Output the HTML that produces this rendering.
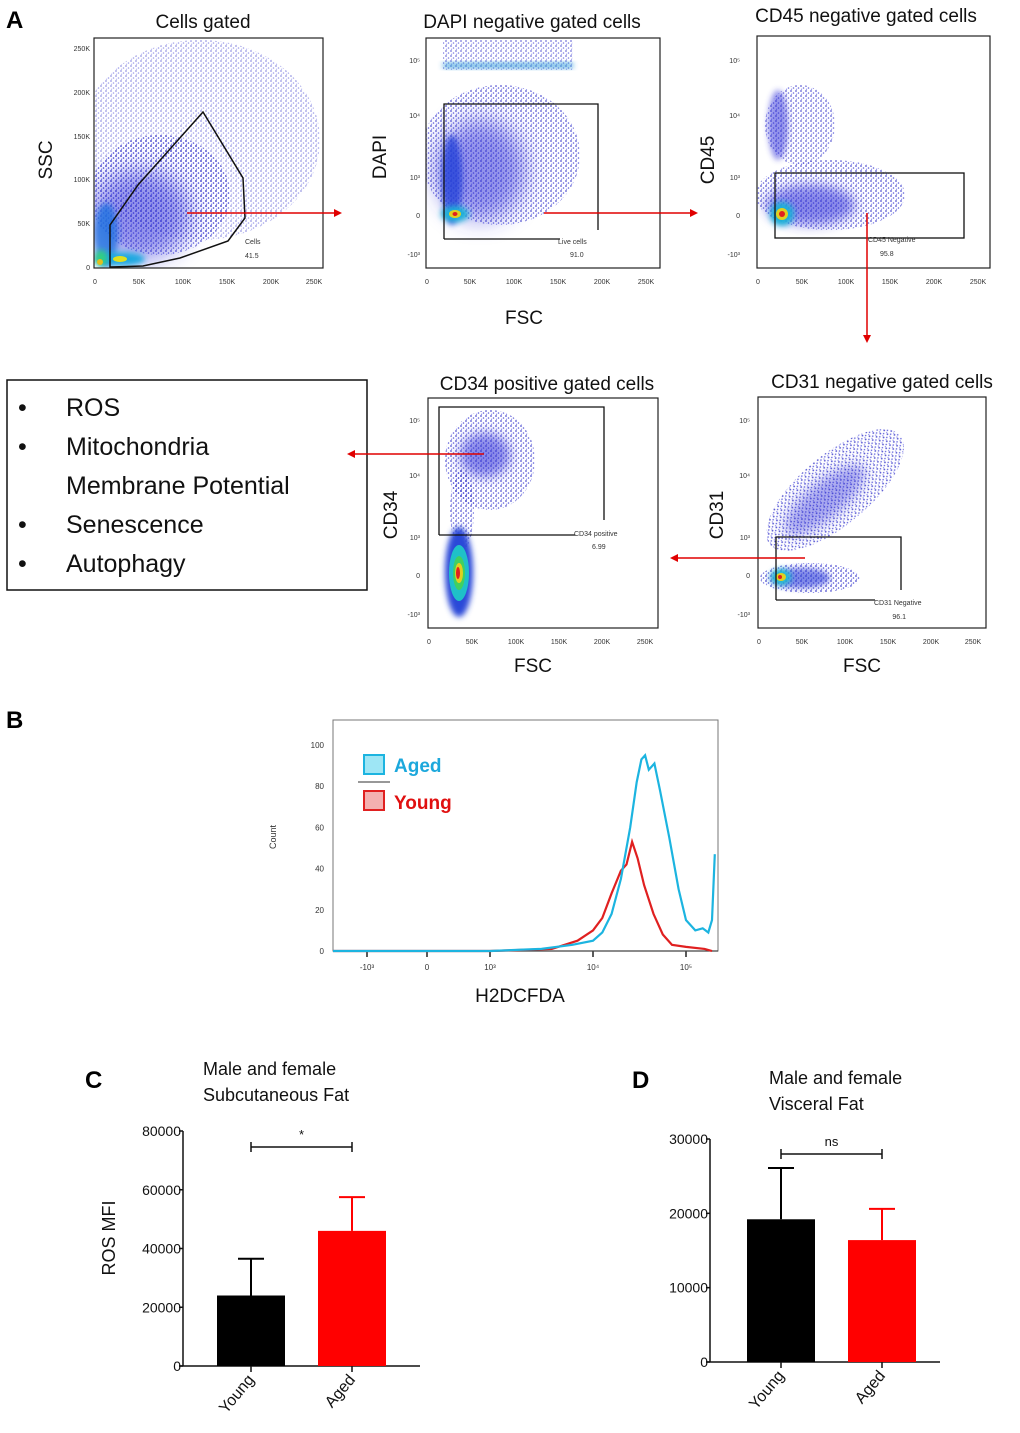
<!DOCTYPE html>
<html><head><meta charset="utf-8">
<style>
html,body{margin:0;padding:0;background:#fff;}
svg{display:block;font-family:"Liberation Sans",sans-serif;}
.t{font-size:19px;fill:#111;}
.sm{font-size:7px;fill:#333;}
.al{font-size:19px;fill:#111;}
</style></head>
<body>
<svg id="fig" width="1020" height="1433" viewBox="0 0 1020 1433" xmlns="http://www.w3.org/2000/svg">
<defs>
<filter id="b6" x="-50%" y="-50%" width="200%" height="200%"><feGaussianBlur stdDeviation="6"/></filter>
<filter id="b3" x="-50%" y="-50%" width="200%" height="200%"><feGaussianBlur stdDeviation="3"/></filter>
<filter id="b12" x="-50%" y="-50%" width="200%" height="200%"><feGaussianBlur stdDeviation="12"/></filter>
<pattern id="spk" width="5" height="5" patternUnits="userSpaceOnUse"><circle cx="1" cy="1" r="0.9" fill="#1818c0"/><circle cx="3.5" cy="3" r="0.8" fill="#2a2ad0"/><circle cx="1.5" cy="4.2" r="0.6" fill="#4a4ae0"/></pattern>
<marker id="ah" markerWidth="8" markerHeight="8" refX="6" refY="4" orient="auto" markerUnits="userSpaceOnUse"><path d="M0,0 L8,4 L0,8 z" fill="#e00000"/></marker>
<clipPath id="c1"><rect x="94" y="38" width="229" height="230"/></clipPath>
<clipPath id="c2"><rect x="426" y="38" width="234" height="230"/></clipPath>
<clipPath id="c3"><rect x="757" y="36" width="233" height="232"/></clipPath>
<clipPath id="c4"><rect x="428" y="398" width="230" height="230"/></clipPath>
<clipPath id="c5"><rect x="758" y="397" width="228" height="231"/></clipPath>
</defs>

<text x="6" y="28" font-size="24" font-weight="bold">A</text>
<text x="6" y="728" font-size="24" font-weight="bold">B</text>
<text x="85" y="1088" font-size="24" font-weight="bold">C</text>
<text x="632" y="1088" font-size="24" font-weight="bold">D</text>

<g>
<text class="t" x="203" y="28" text-anchor="middle">Cells gated</text>
<g clip-path="url(#c1)">
<ellipse cx="200" cy="140" rx="120" ry="100" fill="url(#spk)" opacity="0.45"/>
<ellipse cx="160" cy="195" rx="70" ry="60" fill="url(#spk)" opacity="0.75"/>
<ellipse cx="140" cy="215" rx="50" ry="45" fill="#2a2ad8" opacity="0.5" filter="url(#b12)"/>
<ellipse cx="106" cy="235" rx="12" ry="32" fill="#1f6fe0" opacity="0.8" filter="url(#b3)"/>
<ellipse cx="120" cy="259" rx="25" ry="7" fill="#1fa8e0" filter="url(#b3)"/>
<ellipse cx="101" cy="258" rx="6" ry="8" fill="#30d080" filter="url(#b3)"/>
<ellipse cx="120" cy="259" rx="7" ry="3" fill="#e0e020"/>
<ellipse cx="100" cy="262" rx="3" ry="3" fill="#e0c020"/>
</g>
<rect x="94" y="38" width="229" height="230" fill="none" stroke="#222" stroke-width="1.2"/>
<polygon points="110,267 110,225 138,185 203,112 243,178 245,218 228,241 180,258 143,266" fill="none" stroke="#111" stroke-width="1.5"/>
<text class="sm" x="245" y="244">Cells</text><text class="sm" x="245" y="258">41.5</text>
<text class="al" transform="translate(52,160) rotate(-90)" text-anchor="middle">SSC</text>
<g class="sm" text-anchor="end">
<text x="90" y="51">250K</text><text x="90" y="95">200K</text><text x="90" y="139">150K</text><text x="90" y="182">100K</text><text x="90" y="226">50K</text><text x="90" y="270">0</text></g>
<g class="sm" text-anchor="middle">
<text x="95" y="284">0</text><text x="139" y="284">50K</text><text x="183" y="284">100K</text><text x="227" y="284">150K</text><text x="271" y="284">200K</text><text x="314" y="284">250K</text></g>
<line x1="187" y1="213" x2="340" y2="213" stroke="#e00000" stroke-width="1.5" marker-end="url(#ah)"/>
</g>

<g>
<text class="t" x="532" y="28" text-anchor="middle">DAPI negative gated cells</text>
<g clip-path="url(#c2)">
<rect x="443" y="40" width="130" height="30" fill="url(#spk)" opacity="0.6"/>
<rect x="443" y="63" width="130" height="5" fill="#2a9ad8" opacity="0.8" filter="url(#b3)"/>
<ellipse cx="500" cy="155" rx="80" ry="70" fill="url(#spk)" opacity="0.75"/>
<ellipse cx="480" cy="170" rx="45" ry="50" fill="#2a2ad8" opacity="0.5" filter="url(#b12)"/>
<ellipse cx="452" cy="180" rx="10" ry="45" fill="#2040d8" opacity="0.8" filter="url(#b3)"/>
<ellipse cx="455" cy="214" rx="14" ry="8" fill="#1fb0d8" filter="url(#b3)"/>
<ellipse cx="455" cy="214" rx="6" ry="4" fill="#e0d020"/>
<ellipse cx="455" cy="214" rx="2.5" ry="2" fill="#e02020"/>
</g>
<rect x="426" y="38" width="234" height="230" fill="none" stroke="#222" stroke-width="1.2"/>
<polyline points="444,239 444,104 598,104 598,230" fill="none" stroke="#111" stroke-width="1.3"/>
<line x1="444" y1="239" x2="560" y2="239" stroke="#111" stroke-width="1.3"/>
<text class="sm" x="558" y="244">Live cells</text><text class="sm" x="570" y="257">91.0</text>
<text class="al" transform="translate(386,157) rotate(-90)" text-anchor="middle">DAPI</text>
<g class="sm" text-anchor="end"><text x="420" y="63">10⁵</text><text x="420" y="118">10⁴</text><text x="420" y="180">10³</text><text x="420" y="218">0</text><text x="420" y="257">-10³</text></g>
<g class="sm" text-anchor="middle"><text x="427" y="284">0</text><text x="470" y="284">50K</text><text x="514" y="284">100K</text><text x="558" y="284">150K</text><text x="602" y="284">200K</text><text x="646" y="284">250K</text></g>
<text class="al" x="524" y="324" text-anchor="middle">FSC</text>
<line x1="544" y1="213" x2="696" y2="213" stroke="#e00000" stroke-width="1.5" marker-end="url(#ah)"/>
</g>

<g>
<text class="t" x="866" y="22" text-anchor="middle">CD45 negative gated cells</text>
<g clip-path="url(#c3)">
<ellipse cx="800" cy="125" rx="35" ry="40" fill="url(#spk)" opacity="0.7"/>
<ellipse cx="778" cy="125" rx="10" ry="35" fill="#2a2ad8" opacity="0.5" filter="url(#b3)"/>
<ellipse cx="830" cy="195" rx="75" ry="35" fill="url(#spk)" opacity="0.75"/>
<ellipse cx="810" cy="205" rx="45" ry="20" fill="#2a2ad8" opacity="0.55" filter="url(#b6)"/>
<ellipse cx="782" cy="214" rx="12" ry="12" fill="#1fb0d8" filter="url(#b3)"/>
<ellipse cx="782" cy="214" rx="6" ry="6" fill="#e0d020"/>
<ellipse cx="782" cy="214" rx="3" ry="3" fill="#e02020"/>
</g>
<rect x="757" y="36" width="233" height="232" fill="none" stroke="#222" stroke-width="1.2"/>
<rect x="775" y="173" width="189" height="65" fill="none" stroke="#111" stroke-width="1.3"/>
<text class="sm" x="868" y="242">CD45 Negative</text><text class="sm" x="880" y="256">95.8</text>
<text class="al" transform="translate(714,160) rotate(-90)" text-anchor="middle">CD45</text>
<g class="sm" text-anchor="end"><text x="740" y="63">10⁵</text><text x="740" y="118">10⁴</text><text x="740" y="180">10³</text><text x="740" y="218">0</text><text x="740" y="257">-10³</text></g>
<g class="sm" text-anchor="middle"><text x="758" y="284">0</text><text x="802" y="284">50K</text><text x="846" y="284">100K</text><text x="890" y="284">150K</text><text x="934" y="284">200K</text><text x="978" y="284">250K</text></g>
<line x1="867" y1="213" x2="867" y2="341" stroke="#e00000" stroke-width="1.5" marker-end="url(#ah)"/>
</g>

<g>
<rect x="7" y="380" width="360" height="210" fill="#fff" stroke="#111" stroke-width="1.5"/>
<g font-size="25" fill="#111">
<text x="18" y="416">•</text><text x="66" y="416">ROS</text>
<text x="18" y="455">•</text><text x="66" y="455">Mitochondria</text>
<text x="66" y="494">Membrane Potential</text>
<text x="18" y="533">•</text><text x="66" y="533">Senescence</text>
<text x="18" y="572">•</text><text x="66" y="572">Autophagy</text>
</g></g>

<g>
<text class="t" x="547" y="390" text-anchor="middle">CD34 positive gated cells</text>
<g clip-path="url(#c4)">
<ellipse cx="490" cy="460" rx="45" ry="50" fill="url(#spk)" opacity="0.75"/>
<ellipse cx="485" cy="455" rx="25" ry="22" fill="#2a2ad8" opacity="0.55" filter="url(#b6)"/>
<ellipse cx="462" cy="510" rx="12" ry="40" fill="url(#spk)" opacity="0.75"/>
<ellipse cx="459" cy="572" rx="14" ry="45" fill="#2a4ad8" filter="url(#b3)"/>
<ellipse cx="459" cy="573" rx="10" ry="28" fill="#1fc0c8"/>
<ellipse cx="459" cy="573" rx="6" ry="17" fill="#40d060"/>
<ellipse cx="459" cy="573" rx="4" ry="10" fill="#e0d020"/>
<ellipse cx="458" cy="573" rx="2" ry="6" fill="#e02020"/>
</g>
<rect x="428" y="398" width="230" height="230" fill="none" stroke="#222" stroke-width="1.2"/>
<polyline points="439,535 439,407 604,407 604,520" fill="none" stroke="#111" stroke-width="1.3"/>
<line x1="439" y1="535" x2="575" y2="535" stroke="#111" stroke-width="1.3"/>
<text class="sm" x="574" y="536">CD34 positive</text><text class="sm" x="592" y="549">6.99</text>
<text class="al" transform="translate(397,515) rotate(-90)" text-anchor="middle">CD34</text>
<g class="sm" text-anchor="end"><text x="420" y="423">10⁵</text><text x="420" y="478">10⁴</text><text x="420" y="540">10³</text><text x="420" y="578">0</text><text x="420" y="617">-10³</text></g>
<g class="sm" text-anchor="middle"><text x="429" y="644">0</text><text x="472" y="644">50K</text><text x="516" y="644">100K</text><text x="559" y="644">150K</text><text x="602" y="644">200K</text><text x="645" y="644">250K</text></g>
<text class="al" x="533" y="672" text-anchor="middle">FSC</text>
<line x1="484" y1="454" x2="349" y2="454" stroke="#e00000" stroke-width="1.5" marker-end="url(#ah)"/>
</g>

<g>
<text class="t" x="882" y="388" text-anchor="middle">CD31 negative gated cells</text>
<g clip-path="url(#c5)">
<ellipse cx="835" cy="490" rx="85" ry="35" transform="rotate(-40 835 490)" fill="url(#spk)" opacity="0.75"/>
<ellipse cx="825" cy="500" rx="50" ry="18" transform="rotate(-40 825 500)" fill="#2a2ad8" opacity="0.4" filter="url(#b6)"/>
<ellipse cx="810" cy="578" rx="50" ry="15" fill="url(#spk)" opacity="0.8"/>
<ellipse cx="800" cy="578" rx="30" ry="10" fill="#2a3ad8" opacity="0.6" filter="url(#b3)"/>
<ellipse cx="781" cy="577" rx="10" ry="8" fill="#1fc0d0" filter="url(#b3)"/>
<ellipse cx="781" cy="577" rx="5" ry="4" fill="#e0d020"/>
<ellipse cx="780" cy="577" rx="2" ry="2" fill="#e02020"/>
</g>
<rect x="758" y="397" width="228" height="231" fill="none" stroke="#222" stroke-width="1.2"/>
<polyline points="776,600 776,537 901,537 901,590" fill="none" stroke="#111" stroke-width="1.3"/>
<line x1="776" y1="600" x2="875" y2="600" stroke="#111" stroke-width="1.3"/>
<text class="sm" x="874" y="605">CD31 Negative</text><text class="sm" x="906" y="619" text-anchor="end">96.1</text>
<text class="al" transform="translate(723,515) rotate(-90)" text-anchor="middle">CD31</text>
<g class="sm" text-anchor="end"><text x="750" y="423">10⁵</text><text x="750" y="478">10⁴</text><text x="750" y="540">10³</text><text x="750" y="578">0</text><text x="750" y="617">-10³</text></g>
<g class="sm" text-anchor="middle"><text x="759" y="644">0</text><text x="802" y="644">50K</text><text x="845" y="644">100K</text><text x="888" y="644">150K</text><text x="931" y="644">200K</text><text x="973" y="644">250K</text></g>
<text class="al" x="862" y="672" text-anchor="middle">FSC</text>
<line x1="805" y1="558" x2="672" y2="558" stroke="#e00000" stroke-width="1.5" marker-end="url(#ah)"/>
</g>

<g id="hist">
<rect x="333" y="720" width="385" height="231" fill="none" stroke="#777" stroke-width="1"/>
<text transform="translate(276,837) rotate(-90)" font-size="9" fill="#333" text-anchor="middle">Count</text>
<text x="520" y="1002" font-size="19" fill="#111" text-anchor="middle">H2DCFDA</text>
<rect x="364" y="755" width="20" height="19" fill="#9ee6f5" stroke="#1cb4e0" stroke-width="2"/>
<text x="394" y="772" font-size="19" font-weight="bold" fill="#1ca8dc">Aged</text>
<line x1="358" y1="782" x2="390" y2="782" stroke="#777" stroke-width="1.5"/>
<rect x="364" y="791" width="20" height="19" fill="#f4b0b0" stroke="#e02020" stroke-width="2"/>
<text x="394" y="809" font-size="19" font-weight="bold" fill="#e01010">Young</text>
</g>

<g id="barC">
<text x="203" y="1075" font-size="18" fill="#111">Male and female</text>
<text x="203" y="1101" font-size="18" fill="#111">Subcutaneous Fat</text>
<text transform="translate(115,1238) rotate(-90)" font-size="18" fill="#111" text-anchor="middle">ROS MFI</text>
</g>
<g id="barD">
<text x="769" y="1084" font-size="18" fill="#111">Male and female</text>
<text x="769" y="1110" font-size="18" fill="#111">Visceral Fat</text>
</g>
</svg>

<script>
const agedLog = [3.0,3.5,3.8,4.0,4.1,4.2,4.3,4.4,4.47,4.52,4.56,4.6,4.66,4.72,4.82,4.92,5.0,5.1,5.18,5.24,5.28,5.31];
const agedCount = [0,1,3,5,9,18,35,60,82,93,95,88,91,78,55,30,15,10,11,9,15,47];
const youngLog = [3.0,3.6,3.85,4.0,4.1,4.2,4.3,4.36,4.42,4.48,4.55,4.65,4.75,4.85,5.0,5.2,5.28];
const youngCount = [0,1,5,10,16,28,39,42,53,45,32,18,8,3,2,1,0];
const histYTicks = [0,20,40,60,80,100];
const histXTickLabels = ["-10³","0","10³","10⁴","10⁵"];
const histXTickVals = [-1,0,3,4,5];

const barCats = ["Young","Aged"];
const cMeans = [24000,46000];
const cErr = [12500,11500];
const cTicks = [0,20000,40000,60000,80000];
const dMeans = [19200,16400];
const dErr = [6900,4200];
const dTicks = [0,10000,20000,30000];
const barColors = ["#000000","#ff0000"];

const NS = "http://www.w3.org/2000/svg";
function mk(parent, tag, attrs){ const e=document.createElementNS(NS,tag); for(const k in attrs) e.setAttribute(k,attrs[k]); parent.appendChild(e); return e; }

const hist = document.getElementById('hist');
function hx(lg){ if(lg===-1) return 367; if(lg===0) return 427; if(lg<4) return 490+(lg-3)*103; return 593+(lg-4)*93; }
function hy(v){ return 951 - v*2.06; }
histYTicks.forEach(v=>{
  const t=mk(hist,'text',{x:324,y:hy(v)+3,'font-size':8,fill:'#333','text-anchor':'end'}); t.textContent=v;
  
  
});
histXTickVals.forEach((v,i)=>{
  const t=mk(hist,'text',{x:hx(v),y:970,'font-size':8,fill:'#333','text-anchor':'middle'}); t.textContent=histXTickLabels[i];
  
  
  mk(hist,'line',{x1:hx(v),y1:951,x2:hx(v),y2:957,stroke:'#222','stroke-width':1.5});
});
mk(hist,'line',{x1:333,y1:951,x2:718,y2:951,stroke:'#444','stroke-width':1.2});
function histLine(xs,ys,color,name){
  let d='M333,'+hy(0)+' L'+hx(xs[0])+','+hy(ys[0]);
  for(let i=1;i<xs.length;i++) d+=' L'+hx(xs[i]).toFixed(1)+','+hy(ys[i]).toFixed(1);
  const p=mk(hist,'path',{d:d,fill:'none',stroke:color,'stroke-width':2.2});
  
  
}
histLine(youngLog,youngCount,'#e02020','young-histogram-line');
histLine(agedLog,agedCount,'#1cb4e0','aged-histogram-line');

function barChart(gid, ax, y0, ytop, vmax, xEnd, barX, barW, means, errs, ticks, sigY, sigText, prefix){
  const g=document.getElementById(gid);
  const y=v=> y0 - v/vmax*(y0-ytop);
  mk(g,'line',{x1:ax,y1:ytop,x2:ax,y2:y0,stroke:'#111','stroke-width':1.5});
  mk(g,'line',{x1:ax-4,y1:y0,x2:xEnd,y2:y0,stroke:'#111','stroke-width':1.5});
  ticks.forEach(v=>{
    mk(g,'line',{x1:ax-4,y1:y(v),x2:ax,y2:y(v),stroke:'#111','stroke-width':1.5});
    const t=mk(g,'text',{x:ax-2,y:y(v)+5,'font-size':14,fill:'#111','text-anchor':'end'}); t.textContent=v;
    
    
  });
  const centers=[];
  means.forEach((m,i)=>{
    const x=barX[i], cx=x+barW/2; centers.push(cx);
    const r=mk(g,'rect',{x:x,y:y(m),width:barW,height:y0-y(m),fill:barColors[i]});
    
    
    const e=mk(g,'path',{d:`M${cx},${y(m)} L${cx},${y(m+errs[i])} M${cx-13},${y(m+errs[i])} L${cx+13},${y(m+errs[i])}`,stroke:barColors[i],'stroke-width':2,fill:'none'});
    
    
    mk(g,'line',{x1:cx,y1:y0,x2:cx,y2:y0+6,stroke:'#111','stroke-width':1.5});
    const t=mk(g,'text',{'font-size':16,fill:'#111','text-anchor':'end',transform:`translate(${cx+4},${y0+14}) rotate(-50)`}); t.textContent=barCats[i];
    
    
  });
  const s=mk(g,'path',{d:`M${centers[0]},${sigY-5} L${centers[0]},${sigY+5} M${centers[0]},${sigY} L${centers[1]},${sigY} M${centers[1]},${sigY-5} L${centers[1]},${sigY+5}`,stroke:'#111','stroke-width':1.5,fill:'none'});
  
  
  const st=mk(g,'text',{x:(centers[0]+centers[1])/2,y:sigY-8,'font-size':13,fill:'#111','text-anchor':'middle'}); st.textContent=sigText;
  
  
}
barChart('barC',183,1366,1131,80000,420,[217,318],68,cMeans,cErr,cTicks,1147,'*','chart-c');
barChart('barD',710,1362,1139,30000,940,[747,848],68,dMeans,dErr,dTicks,1154,'ns','chart-d');
</script>
</body></html>
